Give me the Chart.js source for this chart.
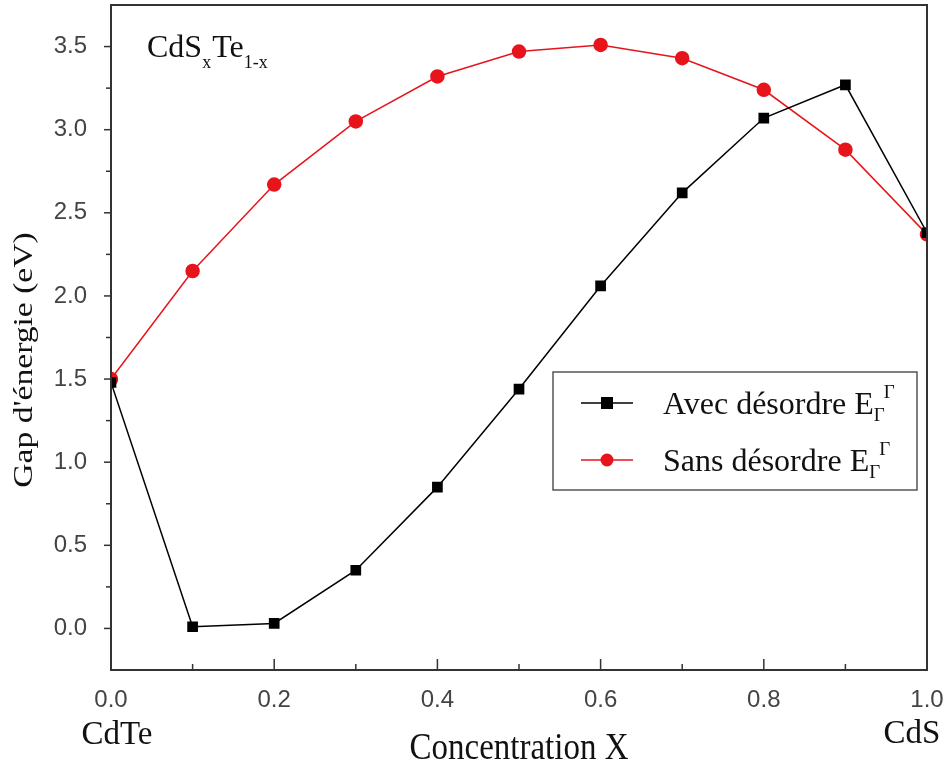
<!DOCTYPE html>
<html lang="fr">
<head>
    <meta charset="UTF-8" />
    <title>Gap d'énergie CdSxTe1-x</title>
    <script src="https://cdn.jsdelivr.net/npm/chart.js"></script>
    <style>
        html, body { margin: 0; padding: 0; background: #fff; }
        #wrap { width: 951px; height: 767px; }
    </style>
</head>
<body>
    <div id="wrap"><canvas id="gapChart" width="951" height="767"></canvas></div>

    <script>
        // concentration x
        const concentration = [0.0, 0.1, 0.2, 0.3, 0.4, 0.5, 0.6, 0.7, 0.8, 0.9, 1.0];
        // Avec désordre
        const avecDesordre = [1.48, 0.01, 0.03, 0.35, 0.85, 1.44, 2.06, 2.62, 3.07, 3.27, 2.38];
        // Sans désordre
        const sansDesordre = [1.50, 2.15, 2.67, 3.05, 3.32, 3.47, 3.51, 3.43, 3.24, 2.88, 2.37];

        const xTickLabels = ["0.0", "0.2", "0.4", "0.6", "0.8", "1.0"];
        const yTickLabels = ["0.0", "0.5", "1.0", "1.5", "2.0", "2.5", "3.0", "3.5"];

        const xTitle = "Concentration X";
        const yTitle = "Gap d'énergie (eV)";

        const serif = "'Liberation Serif', 'DejaVu Serif', serif";
        const sans = "'Liberation Sans', Arial, sans-serif";

        const toPts = (ys) => ys.map((y, i) => ({ x: concentration[i], y: y }));

        // draws text like "E" + sub + sup
        function drawSubSup(ctx, x, y, base, sub, sup, size) {
            ctx.font = size + "px " + serif;
            ctx.fillText(base, x, y);
            let w = ctx.measureText(base).width;
            ctx.font = Math.round(size * 0.6) + "px " + serif;
            ctx.fillText(sub, x + w, y + size * 0.22);
            ctx.fillText(sup, x + w + 10, y - size * 0.5);
        }

        const decorations = {
            id: "decorations",
            afterDraw(chart) {
                const ctx = chart.ctx;
                const a = chart.chartArea;
                const xs = chart.scales.x, ys = chart.scales.y;
                ctx.save();

                // frame
                ctx.strokeStyle = "#333";
                ctx.lineWidth = 2;
                ctx.strokeRect(a.left, a.top, a.right - a.left, a.bottom - a.top);

                // y ticks (outward)
                ctx.lineWidth = 1.5;
                for (let v = 0; v <= 3.5001; v += 0.25) {
                    const py = ys.getPixelForValue(v);
                    const major = Math.abs(v * 2 - Math.round(v * 2)) < 1e-6;
                    ctx.beginPath();
                    ctx.moveTo(a.left, py);
                    ctx.lineTo(a.left - (major ? 7 : 5), py);
                    ctx.stroke();
                }
                // x ticks (inward)
                for (let i = 1; i < 10; i++) {
                    const px = xs.getPixelForValue(i / 10);
                    ctx.beginPath();
                    ctx.moveTo(px, a.bottom);
                    ctx.lineTo(px, a.bottom - (i % 2 === 0 ? 11 : 6));
                    ctx.stroke();
                }

                ctx.fillStyle = "#111";
                ctx.textBaseline = "alphabetic";

                // axis titles (the original lettering is a bit stretched)
                ctx.textAlign = "center";
                ctx.save();
                ctx.translate((a.left + a.right) / 2, 759);
                ctx.scale(1, 1.12);
                ctx.font = "33px " + serif;
                ctx.fillText(xTitle, 0, 0);
                ctx.restore();

                ctx.save();
                ctx.translate(32, 360);
                ctx.rotate(-Math.PI / 2);
                ctx.scale(1.2, 1);
                ctx.font = "28px " + serif;
                ctx.fillText(yTitle, 0, 0);
                ctx.restore();

                // compound names under the axis ends
                ctx.font = "33px " + serif;
                ctx.fillText("CdTe", xs.getPixelForValue(0) + 6, 744);
                ctx.fillText("CdS", xs.getPixelForValue(1) - 15, 743);

                // formula label
                ctx.textAlign = "left";
                ctx.font = "32px " + serif;
                ctx.fillText("CdS", 147, 57);
                let w = ctx.measureText("CdS").width;
                ctx.font = "18px " + serif;
                ctx.fillText("x", 147 + w, 68);
                ctx.font = "32px " + serif;
                ctx.fillText("Te", 147 + w + 10, 57);
                let w2 = ctx.measureText("Te").width;
                ctx.font = "18px " + serif;
                ctx.fillText("1-x", 147 + w + 10 + w2, 68);

                // legend box
                const lx = 553, ly = 372, lw = 364, lh = 118;
                ctx.strokeStyle = "#555";
                ctx.lineWidth = 1.5;
                ctx.fillStyle = "#fff";
                ctx.fillRect(lx, ly, lw, lh);
                ctx.strokeRect(lx, ly, lw, lh);

                const entries = [
                    { label: "Avec désordre ", color: "#000", style: "rect", y: ly + 31 },
                    { label: "Sans désordre ", color: "#e8141b", style: "circle", y: ly + 88 }
                ];
                entries.forEach(e => {
                    ctx.strokeStyle = e.color;
                    ctx.lineWidth = 1.5;
                    ctx.beginPath();
                    ctx.moveTo(lx + 28, e.y);
                    ctx.lineTo(lx + 80, e.y);
                    ctx.stroke();
                    ctx.fillStyle = e.color;
                    if (e.style === "rect") {
                        ctx.fillRect(lx + 48, e.y - 6, 12, 12);
                    } else {
                        ctx.beginPath();
                        ctx.arc(lx + 54, e.y, 6.5, 0, Math.PI * 2);
                        ctx.fill();
                    }
                    ctx.fillStyle = "#111";
                    ctx.font = "32px " + serif;
                    ctx.fillText(e.label, lx + 110, e.y + 11);
                    const tw = ctx.measureText(e.label).width;
                    drawSubSup(ctx, lx + 110 + tw, e.y + 11, "E", "\u0393", "\u0393", 32);
                });

                ctx.restore();
            }
        };

        new Chart(document.getElementById("gapChart"), {
            type: "line",
            data: {
                datasets: [
                    {
                        label: "Avec désordre",
                        data: toPts(avecDesordre),
                        borderColor: "#000",
                        backgroundColor: "#000",
                        borderWidth: 1.5,
                        pointStyle: "rect",
                        pointRadius: 6.5,
                        pointHoverRadius: 6.5,
                        tension: 0
                    },
                    {
                        label: "Sans désordre",
                        data: toPts(sansDesordre),
                        borderColor: "#e8141b",
                        backgroundColor: "#e8141b",
                        borderWidth: 1.5,
                        pointStyle: "circle",
                        pointRadius: 6.5,
                        pointHoverRadius: 6.5,
                        tension: 0
                    }
                ]
            },
            options: {
                responsive: false,
                animation: false,
                layout: { autoPadding: false, padding: { top: 5, right: 24, left: 0, bottom: 0 } },
                plugins: {
                    legend: { display: false },
                    tooltip: { enabled: false }
                },
                scales: {
                    x: {
                        type: "linear",
                        min: 0,
                        max: 1,
                        grid: { display: false },
                        border: { display: false },
                        afterBuildTicks: (s) => { s.ticks = xTickLabels.map(t => ({ value: Number(t) })); },
                        ticks: {
                            color: "#444",
                            font: { family: sans, size: 24 },
                            padding: 8,
                            maxRotation: 0,
                            callback: (v) => xTickLabels[Math.round(v * 5)]
                        },
                        afterFit: (s) => {
                            s.height = 97;
                            s.paddingLeft = 0;
                            s.paddingRight = 0;
                        }
                    },
                    y: {
                        min: -0.25,
                        max: 3.75,
                        grid: { display: false },
                        border: { display: false },
                        afterBuildTicks: (s) => { s.ticks = yTickLabels.map(t => ({ value: Number(t) })); },
                        ticks: {
                            color: "#444",
                            font: { family: sans, size: 24 },
                            padding: 16,
                            callback: (v) => yTickLabels[Math.round(v * 2)]
                        },
                        afterFit: (s) => {
                            s.width = 111;
                            s.paddingTop = 0;
                            s.paddingBottom = 0;
                        }
                    }
                }
            },
            plugins: [decorations]
        });
    </script>
</body>
</html>
